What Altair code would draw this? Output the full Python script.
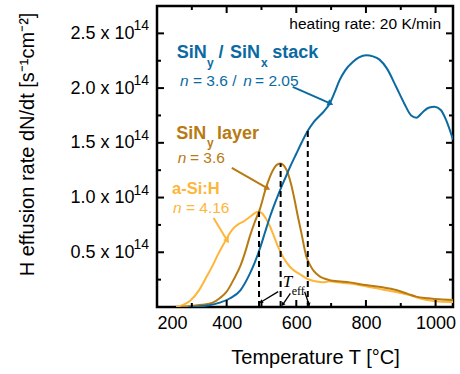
import math
import altair as alt
import pandas as pd

# ---------------- data (rate in units of 1e14 s^-1 cm^-2) ----------------
stack_T = [290, 320, 350, 380, 410, 440, 466, 480, 495, 510, 524, 540, 555, 570, 585, 600, 615, 633,
           650, 665, 680, 696, 710, 724, 740, 763, 780, 801, 820, 839, 860, 887, 910, 930, 945, 963,
           980, 997, 1015, 1030, 1050]
stack_v = [0.0, 0.005, 0.015, 0.04, 0.08, 0.155, 0.30, 0.40, 0.53, 0.68, 0.82, 0.96, 1.08, 1.19, 1.30,
           1.40, 1.50, 1.61, 1.69, 1.74, 1.79, 1.86, 1.96, 2.07, 2.16, 2.24, 2.28, 2.30, 2.29, 2.26,
           2.18, 2.01, 1.86, 1.75, 1.73, 1.78, 1.82, 1.83, 1.80, 1.71, 1.53]

layer_T = [270, 300, 330, 360, 380, 400, 420, 440, 455, 467, 480, 495, 514, 533, 545, 555, 565, 576,
           586, 595, 605, 615, 629, 640, 650, 667, 680, 696, 720, 753, 800, 848, 887, 920, 944, 980,
           1011, 1050]
layer_v = [0.0, 0.01, 0.02, 0.04, 0.08, 0.14, 0.25, 0.38, 0.52, 0.65, 0.77, 0.89, 1.10, 1.25, 1.30,
           1.31, 1.29, 1.22, 1.11, 0.98, 0.82, 0.67, 0.46, 0.38, 0.33, 0.28, 0.26, 0.245, 0.235, 0.225,
           0.20, 0.18, 0.155, 0.12, 0.095, 0.08, 0.07, 0.063]

asi_T = [255, 275, 296, 320, 343, 360, 372, 385, 396, 408, 420, 435, 448, 465, 480, 490, 500, 514,
         524, 533, 545, 552, 565, 581, 595, 610, 630, 648, 665, 677, 696, 720, 753, 800, 848, 896,
         930, 954, 985, 1011, 1050]
asi_v = [0.0, 0.02, 0.06, 0.15, 0.28, 0.38, 0.46, 0.54, 0.60, 0.67, 0.72, 0.76, 0.78, 0.82, 0.855,
         0.87, 0.86, 0.80, 0.74, 0.67, 0.57, 0.52, 0.44, 0.37, 0.33, 0.30, 0.26, 0.24, 0.23, 0.225,
         0.235, 0.225, 0.215, 0.19, 0.16, 0.13, 0.105, 0.08, 0.06, 0.05, 0.045]

series_names = ["a-Si:H", "SiNy layer", "SiNy / SiNx stack"]
series_colors = ["#fdb63a", "#b87a12", "#0b6aa2"]

teff_T = [493, 555, 633]
teff_v = [0.87, 1.31, 1.61]

x_major = [200, 400, 600, 800, 1000]
x_minor = [300, 500, 700, 900]
y_major = [0.5, 1.0, 1.5, 2.0, 2.5]
y_minor = [0.25, 0.75, 1.25, 1.75, 2.25]

# arrows: start (T, v) -> end (T, v)
arrow_T1 = [589.7, 414.9, 362.5]
arrow_v1 = [2.011, 1.271, 0.814]
arrow_T2 = [695.7, 515.2, 400.6]
arrow_v2 = [1.862, 1.088, 0.612]

teffarrow_T1 = [548, 583, 624]
teffarrow_v1 = [0.14, 0.125, 0.14]
teffarrow_T2 = [500, 562, 636]
teffarrow_v2 = [0.048, 0.027, 0.027]

# ---------------- layout ----------------
W, H = 296, 301
XMIN, XMAX = 200, 1050
YMIN, YMAX = 0, 2.75
FONT = "Liberation Sans"
BLUE, BROWN, YELLOW = series_colors[2], series_colors[1], series_colors[0]

xs = alt.Scale(domain=[XMIN, XMAX], nice=False, zero=False)
ys = alt.Scale(domain=[YMIN, YMAX], nice=False, zero=False)

x_axis = alt.Axis(
    values=x_major, format="d", ticks=False, domain=False, grid=False, labelFont=FONT, labelFontSize=18,
    labelColor="black", labelPadding=7, title="Temperature T [°C]", titleFont=FONT,
    titleFontSize=20, titleFontWeight="normal", titleColor="black", titleX=158, titleY=56,
    titleBaseline="alphabetic", titleAlign="center")
y_axis = alt.Axis(
    values=y_major, ticks=False, domain=False, grid=False, labelFont=FONT, labelFontSize=18,
    labelColor="black", labelPadding=23,
    labelExpr="format(datum.value, '.1f') + ' x 10'",
    title="H effusion rate dN/dt [s⁻¹cm⁻²]", titleFont=FONT, titleFontSize=20,
    titleFontWeight="normal", titleColor="black", titleAngle=270, titleX=-130, titleY=138,
    titleBaseline="middle", titleAlign="center")


def X(f):
    return alt.X(f, type="quantitative", scale=xs, axis=x_axis)


def Y(f):
    return alt.Y(f, type="quantitative", scale=ys, axis=y_axis)


curve_df = pd.concat([
    pd.DataFrame({"T": asi_T, "v": asi_v, "series": series_names[0], "k": 0}),
    pd.DataFrame({"T": layer_T, "v": layer_v, "series": series_names[1], "k": 1}),
    pd.DataFrame({"T": stack_T, "v": stack_v, "series": series_names[2], "k": 2}),
])

curves = alt.Chart(curve_df).mark_line(strokeWidth=2, interpolate="monotone", clip=True).encode(
    x=X("T"), y=Y("v"),
    color=alt.Color("series:N", scale=alt.Scale(domain=series_names, range=series_colors), legend=None),
    detail="k:N",
)

sup14 = alt.Chart(pd.DataFrame({"v": y_major, "text": ["14"] * len(y_major)})).mark_text(
    align="right", baseline="middle", font=FONT, fontSize=14, color="black", dy=-7, dx=-1
).encode(x=alt.value(-7), y=Y("v"), text="text:N")

teff_df = pd.DataFrame({"T": teff_T, "v": teff_v, "z": [0] * 3})
dashed = alt.Chart(teff_df).mark_rule(color="black", strokeWidth=2, strokeDash=[6, 4]).encode(
    x=X("T"), y=Y("z"), y2="v")


def arrow_layers(T1, v1, T2, v2, color, width, head):
    ang = []
    for a, b, c, d in zip(T1, v1, T2, v2):
        dx = (c - a) * W / (XMAX - XMIN)
        dy = -(d - b) * H / (YMAX - YMIN)
        ang.append(math.degrees(math.atan2(dx, -dy)) % 360)
    df = pd.DataFrame({"T": T1, "v": v1, "T2": T2, "v2": v2, "ang": ang})
    line = alt.Chart(df).mark_rule(color=color, strokeWidth=width).encode(
        x=X("T"), y=Y("v"), x2="T2", y2="v2")
    tip = alt.Chart(df).mark_point(shape="triangle", filled=True, color=color, size=head, opacity=1).encode(
        x=X("T2"), y=Y("v2"), angle=alt.Angle("ang:Q", scale=None))
    return [line, tip]


arrows = []
for i, col in enumerate([BLUE, BROWN, YELLOW]):
    arrows += arrow_layers([arrow_T1[i]], [arrow_v1[i]], [arrow_T2[i]], [arrow_v2[i]], col, 2, 45)
arrows += arrow_layers(teffarrow_T1, teffarrow_v1, teffarrow_T2, teffarrow_v2, "black", 1.3, 18)


def texts(items, color, size, weight="normal", style="normal", font=FONT, align="left"):
    df = pd.DataFrame(items, columns=["text", "T", "v"])
    return alt.Chart(df).mark_text(align=align, baseline="middle", color=color, fontSize=size,
                                   fontWeight=weight, fontStyle=style, font=font).encode(
        x=X("T"), y=Y("v"), text="text:N")


heading = [["heating rate: 20 K/min", 1015.6, 2.584]]
blue_big = [["SiN", 256.6, 2.321], ["/", 376.6, 2.321], ["SiN", 409.6, 2.321], ["stack", 531.0, 2.321]]
blue_sub = [["y", 343.6, 2.232], ["x", 498.7, 2.232]]
blue_n = [["n", 266.1, 2.065], ["n", 447.8, 2.065]]
blue_eq = [["= 3.6 /", 303.4, 2.065], ["= 2.05", 481.5, 2.065]]
brown_big = [["SiN", 255.4, 1.583], ["layer", 372.0, 1.583]]
brown_sub = [["y", 343.6, 1.501]]
brown_n = [["n", 259.4, 1.359]]
brown_eq = [["= 3.6", 294.5, 1.359]]
yellow_big = [["a-Si:H", 243.1, 1.075]]
yellow_n = [["n", 246.0, 0.902]]
yellow_eq = [["= 4.16", 283.0, 0.902]]
teff_T_lbl = [["T", 561.0, 0.231]]
teff_sub_lbl = [["eff", 587.0, 0.150]]

text_layers = [
    texts(heading, "black", 15.5, align="right"),
    texts(blue_big, BLUE, 18, weight="bold"),
    texts(blue_sub, BLUE, 12, weight="bold"),
    texts(blue_n, BLUE, 15.5, style="italic"),
    texts(blue_eq, BLUE, 15.5),
    texts(brown_big, BROWN, 18, weight="bold"),
    texts(brown_sub, BROWN, 12, weight="bold"),
    texts(brown_n, BROWN, 15.5, style="italic"),
    texts(brown_eq, BROWN, 15.5),
    texts(yellow_big, YELLOW, 16.5, weight="bold"),
    texts(yellow_n, YELLOW, 15.5, style="italic"),
    texts(yellow_eq, YELLOW, 15.5),
    texts(teff_T_lbl, "black", 17, style="italic", font="Liberation Serif"),
    texts(teff_sub_lbl, "black", 12, font="Liberation Serif"),
]


def xticks(vals, length, top):
    df = pd.DataFrame({"T": vals})
    if top:
        enc = dict(y=alt.value(0), y2=alt.value(length))
    else:
        enc = dict(y=alt.value(H), y2=alt.value(H - length))
    return alt.Chart(df).mark_rule(color="black", strokeWidth=2).encode(x=X("T"), **enc)


def yticks(vals, length, right):
    df = pd.DataFrame({"v": vals})
    if right:
        enc = dict(x=alt.value(W), x2=alt.value(W - length))
    else:
        enc = dict(x=alt.value(0), x2=alt.value(length))
    return alt.Chart(df).mark_rule(color="black", strokeWidth=2).encode(y=Y("v"), **enc)


ticks = [
    xticks(x_major, 7, False), xticks(x_minor, 4, False),
    xticks(x_major, 7, True), xticks(x_minor, 4, True),
    yticks(y_major, 7, False), yticks(y_minor, 4, False),
    yticks(y_major, 7, True), yticks(y_minor, 4, True),
]

chart = alt.layer(curves, dashed, *arrows, *text_layers, sup14, *ticks).properties(
    width=W, height=H,
    autosize=alt.AutoSizeParams(type="none"),
    padding={"left": 157, "top": 6, "right": 7, "bottom": 67},
    background="white",
).configure_view(stroke="black", strokeWidth=2.5)

chart.save("out.html", embed_options={"renderer": "svg", "actions": False})
